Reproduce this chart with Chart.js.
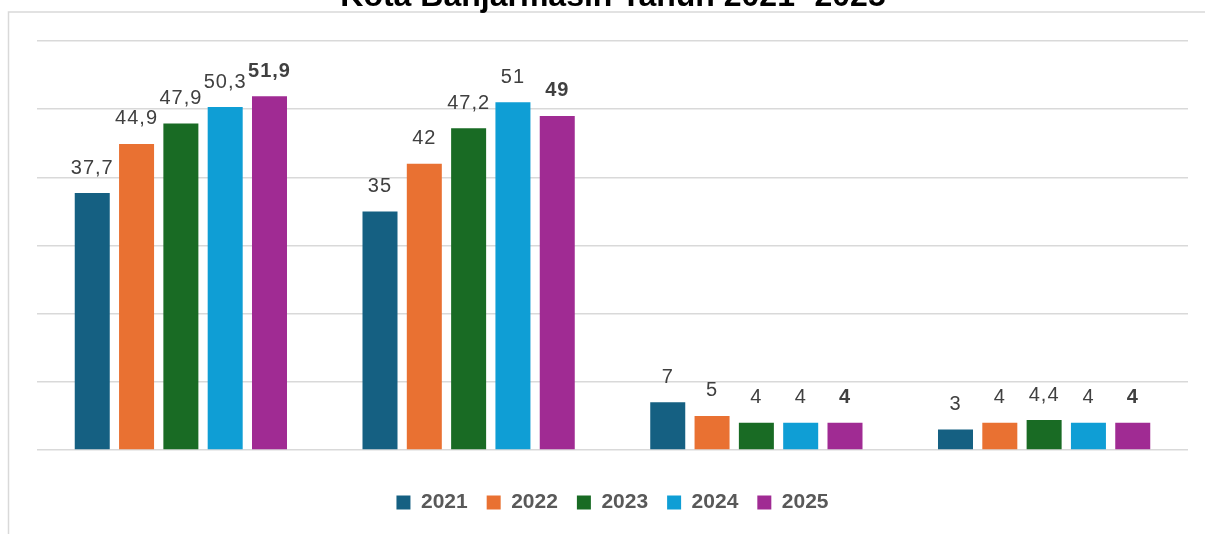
<!DOCTYPE html>
<html>
<head>
<meta charset="utf-8">
<script src="https://cdn.jsdelivr.net/npm/chart.js@4.4.1/dist/chart.umd.min.js"></script>
<style>
html,body{margin:0;padding:0;background:#fff;overflow:hidden;}
#wrap{position:absolute;left:0;top:0;width:1205px;height:534px;}
</style>
</head>
<body>
<div id="wrap"><canvas id="c" width="1205" height="534"></canvas></div>
<script>
const titleText = 'Kota Banjarmasin Tahun 2021- 2025';
const categories = ['Kategori 1', 'Kategori 2', 'Kategori 3', 'Kategori 4'];
const seriesNames = ['2021', '2022', '2023', '2024', '2025'];
const values2021 = [37.7, 35, 7, 3];
const values2022 = [44.9, 42, 5, 4];
const values2023 = [47.9, 47.2, 4, 4.4];
const values2024 = [50.3, 51, 4, 4];
const values2025 = [51.9, 49, 4, 4];
const yTicks = [0, 10, 20, 30, 40, 50, 60];
const colors = ['#156082', '#E97132', '#196B24', '#0F9ED5', '#A02B93'];

const allValues = [values2021, values2022, values2023, values2024, values2025];

const frameTitlePlugin = {
  id: 'frameTitle',
  beforeDraw(chart) {
    const ctx = chart.ctx;
    ctx.save();
    ctx.strokeStyle = '#d9d9d9';
    ctx.lineWidth = 1.5;
    ctx.beginPath();
    ctx.moveTo(8.5, 534);
    ctx.lineTo(8.5, 12);
    ctx.lineTo(1205, 12);
    ctx.stroke();
    ctx.restore();
  },
  afterDraw(chart) {
    const ctx = chart.ctx;
    ctx.save();
    ctx.fillStyle = '#000000';
    ctx.font = 'bold 32px "Liberation Sans", Arial, sans-serif';
    ctx.textAlign = 'center';
    ctx.textBaseline = 'alphabetic';
    ctx.fillText(titleText, 613, 6);
    ctx.restore();
  }
};

const labelPlugin = {
  id: 'valueLabels',
  afterDatasetsDraw(chart) {
    const ctx = chart.ctx;
    ctx.save();
    ctx.fillStyle = '#404040';
    ctx.textAlign = 'center';
    ctx.textBaseline = 'middle';
    chart.data.datasets.forEach((ds, di) => {
      const meta = chart.getDatasetMeta(di);
      const bold = di === chart.data.datasets.length - 1;
      ctx.font = (bold ? 'bold ' : '') + '20px "Liberation Sans", Arial, sans-serif';
      try { ctx.letterSpacing = '1px'; } catch (e) {}
      meta.data.forEach((bar, i) => {
        const txt = String(ds.data[i]).replace('.', ',');
        ctx.fillText(txt, bar.x, bar.y - 25);
      });
    });
    ctx.restore();
  }
};

const datasets = seriesNames.map((name, i) => ({
  label: name,
  data: allValues[i],
  backgroundColor: colors[i],
  borderWidth: 0,
  categoryPercentage: 0.77,
  barPercentage: 0.79
}));

new Chart(document.getElementById('c'), {
  type: 'bar',
  data: { labels: categories, datasets },
  options: {
    responsive: false,
    animation: false,
    layout: { padding: { left: 37, right: 17, top: 41, bottom: 11 } },
    plugins: {
      title: { display: false },
      tooltip: { enabled: false },
      legend: {
        position: 'bottom',
        labels: {
          boxWidth: 14,
          boxHeight: 14,
          padding: 19,
          color: '#595959',
          font: { family: '"Liberation Sans", Arial, sans-serif', size: 21, weight: 'bold' }
        }
      }
    },
    scales: {
      x: {
        display: true,
        grid: { display: false },
        border: { display: false },
        ticks: { display: false },
        afterFit(scale) { scale.height = 23; }
      },
      y: {
        min: yTicks[0],
        max: yTicks[yTicks.length - 1],
        afterBuildTicks(scale) { scale.ticks = yTicks.map(v => ({ value: v })); },
        ticks: { display: false },
        border: { display: false },
        grid: { color: '#d9d9d9', lineWidth: 1.5, drawTicks: false }
      }
    }
  },
  plugins: [frameTitlePlugin, labelPlugin]
});
</script>
</body>
</html>
